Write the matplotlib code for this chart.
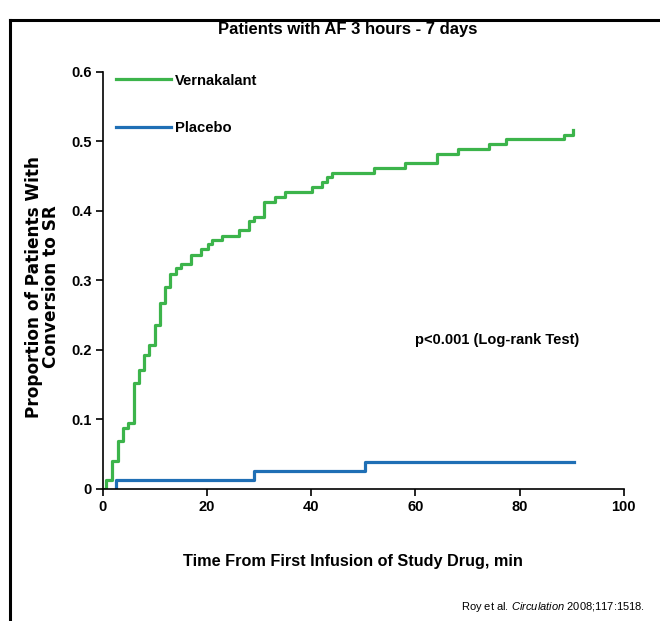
import matplotlib
matplotlib.use('Agg')
import matplotlib.pyplot as plt
from matplotlib.lines import Line2D

# Kaplan-Meier style step data (time in min, cumulative proportion)
verna_t = [0, 0.64, 1.73, 2.82, 3.85, 4.74, 5.96, 6.86, 7.82, 8.91, 9.94, 11.0, 11.9,
           12.8, 14.0, 15.0, 17.0, 18.9, 20.1, 21.0, 22.9, 26.1, 28.1, 29.0, 31.0,
           33.0, 35.0, 40.1, 42.0, 43.0, 44.0, 52.0, 58.0, 64.1, 68.1, 74.2, 77.4,
           88.5, 90.3]
verna_p = [0, 0.0135, 0.040, 0.069, 0.088, 0.095, 0.152, 0.171, 0.193, 0.207, 0.236,
           0.267, 0.290, 0.309, 0.318, 0.324, 0.337, 0.345, 0.352, 0.358, 0.364,
           0.372, 0.386, 0.392, 0.413, 0.420, 0.427, 0.434, 0.4415, 0.449, 0.455,
           0.462, 0.469, 0.482, 0.489, 0.497, 0.504, 0.510, 0.517]

placebo_t = [2.56, 2.56, 29.0, 50.3, 90.4]
placebo_p = [0, 0.0134, 0.0254, 0.0384, 0.0384]

x_ticks = [0, 20, 40, 60, 80, 100]
y_ticks = [0, 0.1, 0.2, 0.3, 0.4, 0.5, 0.6]
y_tick_labels = ['0', '0.1', '0.2', '0.3', '0.4', '0.5', '0.6']

plt.rcParams['mathtext.fontset'] = 'custom'
plt.rcParams['mathtext.rm'] = 'Liberation Sans'
plt.rcParams['mathtext.it'] = 'Liberation Sans:italic'

sans = ['Liberation Sans', 'DejaVu Sans']

fig = plt.figure(figsize=(6.6, 6.21), dpi=100)
ax = fig.add_axes([0.156, 0.2126, 0.789, 0.6715])

ax.step(verna_t, verna_p, where='post', color='#3cb44b', lw=2.3, label='Vernakalant')
ax.step(placebo_t, placebo_p, where='post', color='#1f6fb5', lw=2.3, label='Placebo')

ax.set_xlim(0, 100)
ax.set_ylim(0, 0.6)
ax.set_xticks(x_ticks)
ax.set_xticklabels([str(v) for v in x_ticks], family=sans, fontweight='bold', fontsize=10.5)
ax.set_yticks(y_ticks)
ax.set_yticklabels(y_tick_labels, family=sans, fontweight='bold', fontsize=10.5)
ax.tick_params(direction='out', length=5, width=1.2, pad=3)
for s in ['top', 'right']:
    ax.spines[s].set_visible(False)
for s in ['left', 'bottom']:
    ax.spines[s].set_linewidth(1.2)
ax.spines['left'].set_bounds(0, 0.6)

ax.set_xlabel('Time From First Infusion of Study Drug, min', family=sans,
              fontweight='bold', fontsize=11.7, labelpad=29)
ax.xaxis.label.set_x(0.481)
ax.set_ylabel('Proportion of Patients With\nConversion to SR', family='DejaVu Sans',
              fontweight='bold', fontsize=12.2, labelpad=8, linespacing=0.95)
ax.yaxis.label.set_y(0.485)

ax.text(0.60, 0.358, 'p<0.001 (Log-rank Test)', transform=ax.transAxes, va='center',
        family=sans, fontweight='bold', fontsize=10.5)

leg = ax.legend(loc='upper left', bbox_to_anchor=(0.0, 1.028), frameon=False,
                prop={'family': sans, 'weight': 'bold', 'size': 10.6},
                handlelength=3.7, handletextpad=0.3, labelspacing=2.25,
                borderaxespad=0.5)

fig.text(0.527, 0.953, 'Patients with AF 3 hours - 7 days', ha='center', va='center',
         family=sans, fontweight='bold', fontsize=12)
fig.text(0.978, 0.012, r'Roy et al. $\it{Circulation}$ 2008;117:1518.', ha='right',
         va='bottom', family=sans, fontsize=8)

# enclosing frame of the slide
fig.add_artist(Line2D([0.015, 0.015], [0.0, 0.968], color='black', lw=2.2,
                      transform=fig.transFigure))
fig.add_artist(Line2D([0.015, 1.0], [0.968, 0.968], color='black', lw=2.2,
                      transform=fig.transFigure))
fig.text(0.022, 1.008, 'g', family='DejaVu Serif', fontweight='bold', fontsize=13,
         ha='left', va='baseline')

fig.savefig('out.png', dpi=100)
